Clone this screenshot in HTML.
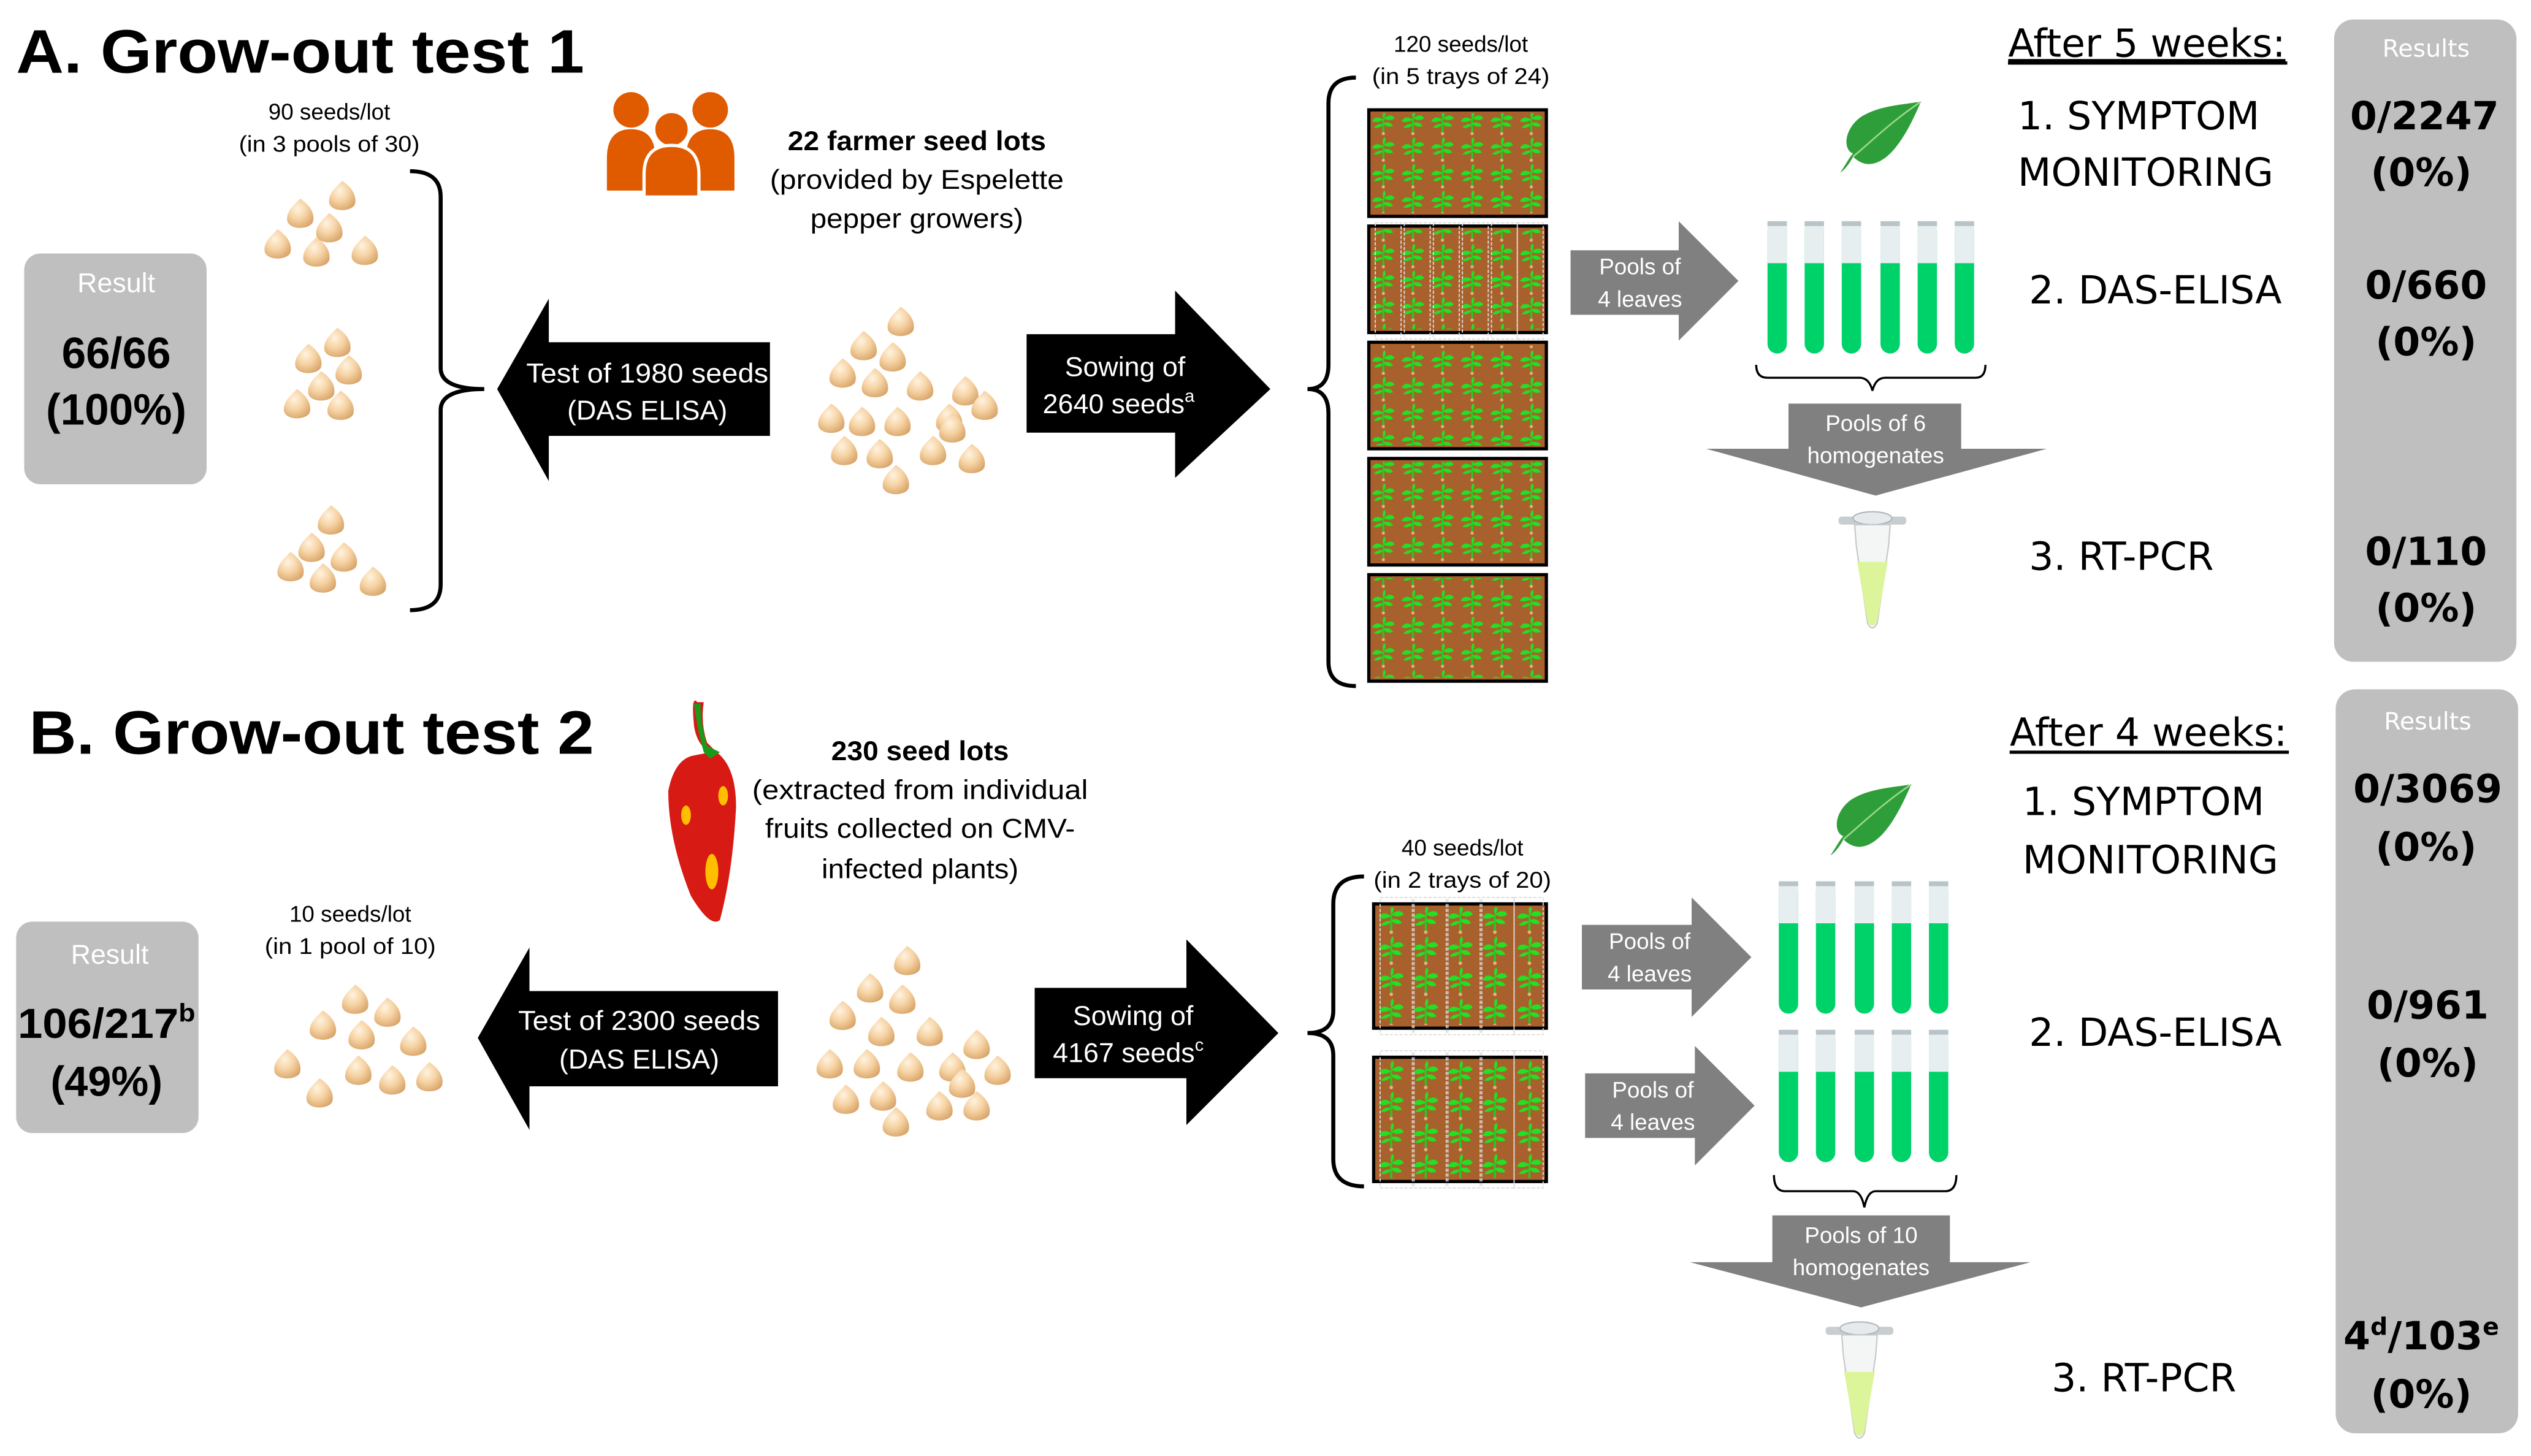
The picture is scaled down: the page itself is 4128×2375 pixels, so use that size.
<!DOCTYPE html>
<html><head><meta charset="utf-8">
<style>
html,body{margin:0;padding:0;background:#fff;width:4128px;height:2375px;overflow:hidden}
svg{display:block}
.c{font-family:"Liberation Sans",sans-serif}
.d{font-family:"DejaVu Sans","Liberation Sans",sans-serif}
</style></head><body>
<svg width="4128" height="2375" viewBox="0 0 1568 902" xmlns="http://www.w3.org/2000/svg">
<defs>
<radialGradient id="sg" cx="0.4" cy="0.35" r="0.7">
<stop offset="0" stop-color="#fff3e0"/><stop offset="0.5" stop-color="#f6d3a4"/><stop offset="1" stop-color="#d9a66b"/>
</radialGradient>
<g id="s"><path d="M0,-10 C6,-6 9,-1 8,4 C7,9 -6,10 -8,4 C-9,-2 -4,-6 0,-10 Z" fill="url(#sg)"/></g>
<g id="pl">
<path d="M9,14 L9,5" stroke="#1fcc1f" stroke-width="1.2"/>
<path d="M9,6 C5,3 3,5 2,7 C5,8 7,7 9,6 Z M9,5 C13,2 15,3 16,5 C13,7 11,6 9,5 Z M9,9 C6,8 4,10 3,11 C6,12 8,10 9,9 Z M9,8 C12,7 14,8 15,10 C12,11 10,10 9,8 Z M9,5 C8,2 9,0 10,0 C11,2 10,4 9,5Z" fill="#22e022"/>
<circle cx="9" cy="15" r="1" fill="#e8b080"/>
</g>
<pattern id="pa" patternUnits="userSpaceOnUse" x="848" y="68" width="18.33" height="16.5"><use href="#pl" transform="translate(0,0.5) scale(1,0.95)"/></pattern>
<pattern id="pb" patternUnits="userSpaceOnUse" x="851" y="560" width="21.4" height="19.25"><use href="#pl" transform="translate(1,1) scale(1.1,1.1)"/></pattern>
<g id="tube"><rect x="0" y="0" width="12" height="82" rx="6" fill="#00d26a"/><rect x="0" y="0" width="12" height="26" fill="#e6eef0"/><rect x="0" y="0" width="12" height="3" fill="#b8c4c8"/></g>
<g id="epp">
<rect x="-21" y="2" width="42" height="5" rx="2" fill="#c8cdd0"/>
<ellipse cx="0" cy="3" rx="12" ry="4" fill="#e6eaec" stroke="#b0b6b8" stroke-width="0.8"/>
<path d="M-11,7 L11,7 L10,20 L3,68 Q0,74 -3,68 L-10,20 Z" fill="#f4f6f6" stroke="#c4c8c8" stroke-width="0.8"/>
<path d="M-9.5,30 L9.5,30 L3,67 Q0,72 -3,67 Z" fill="#dcf59a"/>
</g>
<g id="leaf"><path d="M0,44 C4,38 6,34 8,32 C2,30 2,18 12,10 C22,3 36,2 50,0 C44,14 36,30 26,36 C18,41 12,38 8,34 C6,38 3,42 0,44Z" fill="#2e9e3a"/><path d="M8,34 C20,24 32,12 50,0" stroke="#9bd88a" stroke-width="1" fill="none"/></g>
</defs>

<!-- ========== A ========== -->
<text x="10" y="45" class="c" font-size="38" font-weight="bold" textLength="352" lengthAdjust="spacingAndGlyphs">A. Grow-out test 1</text>

<rect x="15" y="157" width="113" height="143" rx="10" fill="#bfbfbf"/>
<text x="72" y="181" class="c" font-size="17" fill="#fff" text-anchor="middle">Result</text>
<text x="72" y="228" class="c" font-size="27" font-weight="bold" text-anchor="middle">66/66</text>
<text x="72" y="263" class="c" font-size="27" font-weight="bold" text-anchor="middle">(100%)</text>

<text x="204" y="74" class="c" font-size="14" text-anchor="middle">90 seeds/lot</text>
<text x="204" y="94" class="c" font-size="14" text-anchor="middle" textLength="112" lengthAdjust="spacingAndGlyphs">(in 3 pools of 30)</text>

<g>
<use href="#s" x="212" y="122"/><use href="#s" x="186" y="133"/><use href="#s" x="204" y="142"/><use href="#s" x="172" y="152"/><use href="#s" x="196" y="157"/><use href="#s" x="226" y="156"/>
<use href="#s" x="209" y="213"/><use href="#s" x="191" y="223"/><use href="#s" x="216" y="230"/><use href="#s" x="199" y="240"/><use href="#s" x="184" y="251"/><use href="#s" x="211" y="252"/>
<use href="#s" x="205" y="323"/><use href="#s" x="193" y="340"/><use href="#s" x="213" y="346"/><use href="#s" x="180" y="352"/><use href="#s" x="200" y="359"/><use href="#s" x="231" y="361"/>
</g>
<path d="M254,106 Q273,106 273,122 L273,228 Q273,241 300,241 Q273,241 273,254 L273,362 Q273,378 254,378" fill="none" stroke="#000" stroke-width="2.5"/>

<path d="M308,241 L340,185 L340,212 L477,212 L477,270 L340,270 L340,298 Z" fill="#000"/>
<text x="401" y="237" class="c" font-size="17" fill="#fff" text-anchor="middle" textLength="150" lengthAdjust="spacingAndGlyphs">Test of 1980 seeds</text>
<text x="401" y="260" class="c" font-size="17" fill="#fff" text-anchor="middle">(DAS ELISA)</text>

<g fill="#e05a00">
<circle cx="391" cy="68" r="11"/><circle cx="440" cy="68" r="11"/>
<path d="M376,118 L376,98 Q376,80 391,80 Q406,80 406,98 L406,118Z"/><path d="M425,118 L425,98 Q425,80 440,80 Q455,80 455,98 L455,118Z"/>
<circle cx="416" cy="80" r="11" stroke="#fff" stroke-width="2"/>
<path d="M399,122 L399,108 Q399,90 416,90 Q433,90 433,108 L433,122Z" stroke="#fff" stroke-width="2"/>
</g>

<text x="568" y="93" class="c" font-size="17" font-weight="bold" text-anchor="middle" textLength="160" lengthAdjust="spacingAndGlyphs">22 farmer seed lots</text>
<text x="568" y="117" class="c" font-size="17" text-anchor="middle" textLength="182" lengthAdjust="spacingAndGlyphs">(provided by Espelette</text>
<text x="568" y="141" class="c" font-size="17" text-anchor="middle" textLength="132" lengthAdjust="spacingAndGlyphs">pepper growers)</text>

<g>
<use href="#s" x="558" y="200"/><use href="#s" x="535" y="215"/><use href="#s" x="553" y="222"/><use href="#s" x="522" y="232"/><use href="#s" x="542" y="238"/><use href="#s" x="570" y="240"/>
<use href="#s" x="598" y="243"/><use href="#s" x="610" y="252"/><use href="#s" x="515" y="260"/><use href="#s" x="534" y="262"/><use href="#s" x="556" y="262"/><use href="#s" x="588" y="260"/>
<use href="#s" x="523" y="280"/><use href="#s" x="545" y="282"/><use href="#s" x="578" y="280"/><use href="#s" x="602" y="285"/><use href="#s" x="555" y="298"/><use href="#s" x="590" y="266"/>
</g>

<path d="M636,207 L728,207 L728,180 L787,241 L728,296 L728,268 L636,268 Z" fill="#000"/>
<text x="697" y="233" class="c" font-size="17" fill="#fff" text-anchor="middle">Sowing of</text>
<text x="693" y="256" class="c" font-size="17" fill="#fff" text-anchor="middle">2640 seeds<tspan font-size="11" dy="-7">a</tspan></text>

<path d="M840,48 Q823,48 823,64 L823,226 Q823,241 810,241 Q823,241 823,256 L823,410 Q823,425 840,425" fill="none" stroke="#000" stroke-width="2.5"/>
<text x="905" y="32" class="c" font-size="14" text-anchor="middle">120 seeds/lot</text>
<text x="905" y="52" class="c" font-size="14" text-anchor="middle" textLength="110" lengthAdjust="spacingAndGlyphs">(in 5 trays of 24)</text>

<g stroke="#000" stroke-width="2">
<rect x="848" y="68" width="110" height="66" fill="#a8612c"/>
<rect x="848" y="140" width="110" height="66" fill="#a8612c"/>
<rect x="848" y="212" width="110" height="66" fill="#a8612c"/>
<rect x="848" y="284" width="110" height="66" fill="#a8612c"/>
<rect x="848" y="356" width="110" height="66" fill="#a8612c"/>
</g>
<g>
<rect x="850" y="70" width="106" height="62" fill="url(#pa)"/>
<rect x="850" y="142" width="106" height="62" fill="url(#pa)"/>
<rect x="850" y="214" width="106" height="62" fill="url(#pa)"/>
<rect x="850" y="286" width="106" height="62" fill="url(#pa)"/>
<rect x="850" y="358" width="106" height="62" fill="url(#pa)"/>
</g>
<g stroke="#ddd" stroke-width="0.7" stroke-dasharray="2,1" fill="none">
<rect x="852" y="138" width="16" height="72"/><rect x="870" y="138" width="16" height="72"/><rect x="888" y="138" width="16" height="72"/><rect x="906" y="138" width="16" height="72"/><rect x="924" y="138" width="16" height="72"/><rect x="940" y="138" width="16" height="72"/>
</g>

<path d="M973,155 L1040,155 L1040,137 L1077,174 L1040,211 L1040,195 L973,195 Z" fill="#808080"/>
<text x="1016" y="170" class="c" font-size="14" fill="#fff" text-anchor="middle">Pools of</text>
<text x="1016" y="190" class="c" font-size="14" fill="#fff" text-anchor="middle">4 leaves</text>

<use href="#leaf" x="1140" y="63"/>
<use href="#tube" x="1095" y="137"/><use href="#tube" x="1118" y="137"/><use href="#tube" x="1141" y="137"/><use href="#tube" x="1165" y="137"/><use href="#tube" x="1188" y="137"/><use href="#tube" x="1211" y="137"/>
<path d="M1088,226 Q1088,234 1095,234 L1152,234 Q1158,234 1160,242 Q1162,234 1168,234 L1224,234 Q1230,234 1230,226" fill="none" stroke="#000" stroke-width="1.3"/>
<path d="M1108,250 L1215,250 L1215,278 L1268,278 L1162,307 L1057,278 L1108,278 Z" fill="#808080"/>
<text x="1162" y="267" class="c" font-size="14" fill="#fff" text-anchor="middle">Pools of 6</text>
<text x="1162" y="287" class="c" font-size="14" fill="#fff" text-anchor="middle">homogenates</text>
<use href="#epp" x="1160" y="318"/>

<text x="1330" y="35" class="d" font-size="24" text-anchor="middle" text-decoration="underline">After 5 weeks:</text>
<rect x="1244" y="38" width="173" height="2" fill="#000"/>
<text x="1250" y="80" class="d" font-size="24">1. SYMPTOM</text>
<text x="1250" y="115" class="d" font-size="24">MONITORING</text>
<text x="1257" y="188" class="d" font-size="24">2. DAS-ELISA</text>
<text x="1257" y="353" class="d" font-size="24">3. RT-PCR</text>

<rect x="1446" y="12" width="113" height="398" rx="12" fill="#bfbfbf"/>
<text x="1503" y="35" class="d" font-size="15" fill="#fff" text-anchor="middle">Results</text>
<text x="1502" y="80" class="d" font-size="24" font-weight="bold" text-anchor="middle">0/2247</text>
<text x="1500" y="115" class="d" font-size="24" font-weight="bold" text-anchor="middle">(0%)</text>
<text x="1503" y="185" class="d" font-size="24" font-weight="bold" text-anchor="middle">0/660</text>
<text x="1503" y="220" class="d" font-size="24" font-weight="bold" text-anchor="middle">(0%)</text>
<text x="1503" y="350" class="d" font-size="24" font-weight="bold" text-anchor="middle">0/110</text>
<text x="1503" y="385" class="d" font-size="24" font-weight="bold" text-anchor="middle">(0%)</text>

<!-- ========== B ========== -->
<text x="18" y="467" class="c" font-size="38" font-weight="bold" textLength="350" lengthAdjust="spacingAndGlyphs">B. Grow-out test 2</text>

<rect x="10" y="571" width="113" height="131" rx="10" fill="#bfbfbf"/>
<text x="68" y="597" class="c" font-size="17" fill="#fff" text-anchor="middle">Result</text>
<text x="66" y="643" class="c" font-size="26" font-weight="bold" text-anchor="middle" textLength="110" lengthAdjust="spacingAndGlyphs">106/217<tspan font-size="16" dy="-10">b</tspan></text>
<text x="66" y="679" class="c" font-size="26" font-weight="bold" text-anchor="middle">(49%)</text>

<text x="217" y="571" class="c" font-size="14" text-anchor="middle">10 seeds/lot</text>
<text x="217" y="591" class="c" font-size="14" text-anchor="middle" textLength="106" lengthAdjust="spacingAndGlyphs">(in 1 pool of 10)</text>
<g>
<use href="#s" x="220" y="620"/><use href="#s" x="240" y="628"/><use href="#s" x="200" y="636"/><use href="#s" x="224" y="642"/><use href="#s" x="256" y="646"/>
<use href="#s" x="178" y="660"/><use href="#s" x="222" y="664"/><use href="#s" x="243" y="670"/><use href="#s" x="266" y="668"/><use href="#s" x="198" y="678"/>
</g>

<path d="M296,643 L328,587 L328,614 L482,614 L482,673 L328,673 L328,700 Z" fill="#000"/>
<text x="396" y="638" class="c" font-size="17" fill="#fff" text-anchor="middle" textLength="150" lengthAdjust="spacingAndGlyphs">Test of 2300 seeds</text>
<text x="396" y="662" class="c" font-size="17" fill="#fff" text-anchor="middle">(DAS ELISA)</text>

<path d="M432,435 Q428,430 430,450 Q432,462 440,466 L430,468 Q418,470 414,490 Q414,520 428,555 Q440,575 446,570 Q454,540 456,500 Q456,475 444,466 L438,460 Q434,448 436,435Z" fill="#d81a14"/>
<path d="M430,436 Q432,452 436,466 L440,470 L446,466 L438,462 Q434,448 434,436Z" fill="#1a9a1a"/>
<ellipse cx="425" cy="505" rx="3" ry="6" fill="#ffbf00"/><ellipse cx="448" cy="493" rx="3" ry="6" fill="#ffbf00"/><ellipse cx="441" cy="540" rx="4" ry="11" fill="#ffbf00"/>

<text x="570" y="471" class="c" font-size="17" font-weight="bold" text-anchor="middle" textLength="110" lengthAdjust="spacingAndGlyphs">230 seed lots</text>
<text x="570" y="495" class="c" font-size="17" text-anchor="middle" textLength="208" lengthAdjust="spacingAndGlyphs">(extracted from individual</text>
<text x="570" y="519" class="c" font-size="17" text-anchor="middle" textLength="192" lengthAdjust="spacingAndGlyphs">fruits collected on CMV-</text>
<text x="570" y="544" class="c" font-size="17" text-anchor="middle" textLength="122" lengthAdjust="spacingAndGlyphs">infected plants)</text>

<g>
<use href="#s" x="562" y="596"/><use href="#s" x="539" y="613"/><use href="#s" x="559" y="620"/><use href="#s" x="522" y="630"/><use href="#s" x="546" y="640"/><use href="#s" x="576" y="640"/>
<use href="#s" x="605" y="648"/><use href="#s" x="618" y="664"/><use href="#s" x="514" y="660"/><use href="#s" x="537" y="660"/><use href="#s" x="564" y="662"/><use href="#s" x="590" y="662"/>
<use href="#s" x="524" y="682"/><use href="#s" x="547" y="680"/><use href="#s" x="582" y="686"/><use href="#s" x="605" y="686"/><use href="#s" x="555" y="696"/><use href="#s" x="596" y="672"/>
</g>

<path d="M641,612 L735,612 L735,582 L792,640 L735,697 L735,668 L641,668 Z" fill="#000"/>
<text x="702" y="635" class="c" font-size="17" fill="#fff" text-anchor="middle">Sowing of</text>
<text x="699" y="658" class="c" font-size="17" fill="#fff" text-anchor="middle">4167 seeds<tspan font-size="11" dy="-7">c</tspan></text>

<path d="M845,543 Q826,543 826,560 L826,626 Q826,640 810,640 Q826,640 826,654 L826,718 Q826,735 845,735" fill="none" stroke="#000" stroke-width="2.5"/>
<text x="906" y="530" class="c" font-size="14" text-anchor="middle">40 seeds/lot</text>
<text x="906" y="550" class="c" font-size="14" text-anchor="middle" textLength="110" lengthAdjust="spacingAndGlyphs">(in 2 trays of 20)</text>

<g stroke="#000" stroke-width="2">
<rect x="851" y="560" width="107" height="77" fill="#a8612c"/>
<rect x="851" y="655" width="107" height="77" fill="#a8612c"/>
</g>
<rect x="853" y="562" width="103" height="73" fill="url(#pb)"/>
<rect x="853" y="657" width="103" height="73" fill="url(#pb)"/>
<g stroke="#ddd" stroke-width="0.7" stroke-dasharray="2,1" fill="none">
<rect x="855" y="556" width="20" height="85"/><rect x="876" y="556" width="20" height="85"/><rect x="897" y="556" width="20" height="85"/><rect x="918" y="556" width="20" height="85"/><rect x="938" y="556" width="18" height="85"/>
<rect x="855" y="651" width="20" height="85"/><rect x="876" y="651" width="20" height="85"/><rect x="897" y="651" width="20" height="85"/><rect x="918" y="651" width="20" height="85"/><rect x="938" y="651" width="18" height="85"/>
</g>

<path d="M980,573 L1048,573 L1048,556 L1085,593 L1048,630 L1048,613 L980,613 Z" fill="#808080"/>
<text x="1022" y="588" class="c" font-size="14" fill="#fff" text-anchor="middle">Pools of</text>
<text x="1022" y="608" class="c" font-size="14" fill="#fff" text-anchor="middle">4 leaves</text>
<path d="M982,665 L1050,665 L1050,648 L1087,685 L1050,722 L1050,705 L982,705 Z" fill="#808080"/>
<text x="1024" y="680" class="c" font-size="14" fill="#fff" text-anchor="middle">Pools of</text>
<text x="1024" y="700" class="c" font-size="14" fill="#fff" text-anchor="middle">4 leaves</text>

<use href="#leaf" x="1134" y="486"/>
<use href="#tube" x="1102" y="546"/><use href="#tube" x="1125" y="546"/><use href="#tube" x="1149" y="546"/><use href="#tube" x="1172" y="546"/><use href="#tube" x="1195" y="546"/>
<use href="#tube" x="1102" y="638"/><use href="#tube" x="1125" y="638"/><use href="#tube" x="1149" y="638"/><use href="#tube" x="1172" y="638"/><use href="#tube" x="1195" y="638"/>
<path d="M1099,728 Q1099,738 1106,738 L1148,738 Q1153,738 1155,748 Q1157,738 1162,738 L1205,738 Q1212,738 1212,728" fill="none" stroke="#000" stroke-width="1.3"/>
<path d="M1098,753 L1208,753 L1208,782 L1258,782 L1153,810 L1047,782 L1098,782 Z" fill="#808080"/>
<text x="1153" y="770" class="c" font-size="14" fill="#fff" text-anchor="middle">Pools of 10</text>
<text x="1153" y="790" class="c" font-size="14" fill="#fff" text-anchor="middle">homogenates</text>
<use href="#epp" x="1152" y="820"/>

<text x="1331" y="462" class="d" font-size="24" text-anchor="middle">After 4 weeks:</text>
<rect x="1245" y="465" width="173" height="2" fill="#000"/>
<text x="1253" y="505" class="d" font-size="24">1. SYMPTOM</text>
<text x="1253" y="541" class="d" font-size="24">MONITORING</text>
<text x="1257" y="648" class="d" font-size="24">2. DAS-ELISA</text>
<text x="1271" y="862" class="d" font-size="24">3. RT-PCR</text>

<rect x="1447" y="427" width="113" height="461" rx="12" fill="#bfbfbf"/>
<text x="1504" y="452" class="d" font-size="15" fill="#fff" text-anchor="middle">Results</text>
<text x="1504" y="497" class="d" font-size="24" font-weight="bold" text-anchor="middle">0/3069</text>
<text x="1503" y="533" class="d" font-size="24" font-weight="bold" text-anchor="middle">(0%)</text>
<text x="1504" y="631" class="d" font-size="24" font-weight="bold" text-anchor="middle">0/961</text>
<text x="1504" y="667" class="d" font-size="24" font-weight="bold" text-anchor="middle">(0%)</text>
<text x="1500" y="836" class="d" font-size="24" font-weight="bold" text-anchor="middle">4<tspan font-size="15" dy="-9">d</tspan><tspan dy="9">/103</tspan><tspan font-size="15" dy="-9">e</tspan></text>
<text x="1500" y="872" class="d" font-size="24" font-weight="bold" text-anchor="middle">(0%)</text>
</svg>
</body></html>
